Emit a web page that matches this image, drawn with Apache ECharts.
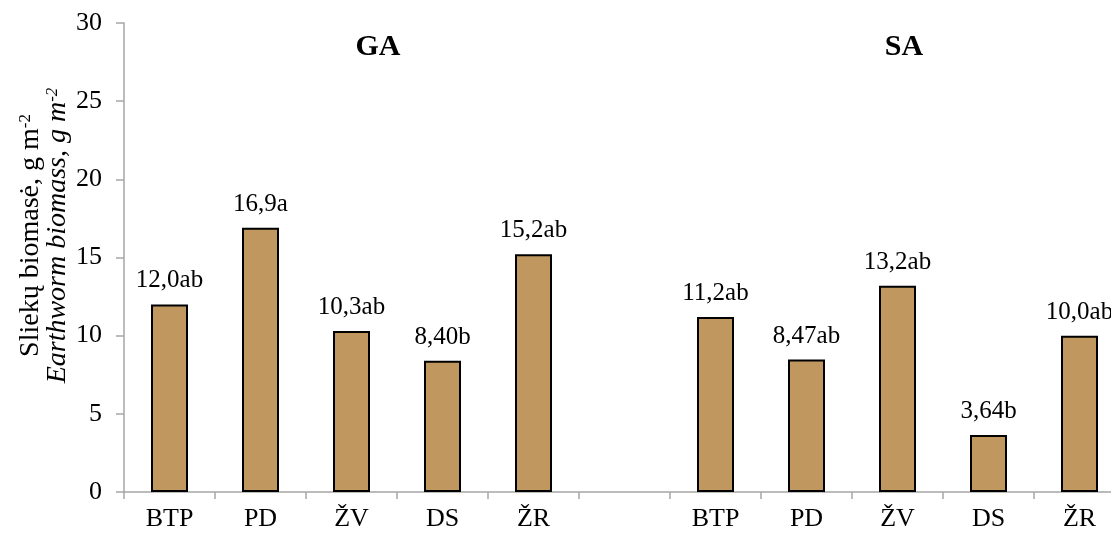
<!DOCTYPE html>
<html>
<head>
<meta charset="utf-8">
<title>Sliekų biomasė</title>
<script src="https://cdn.jsdelivr.net/npm/echarts@6/dist/echarts.min.js"></script>
<style>
  html, body { margin: 0; padding: 0; background: #ffffff; }
  #chart { width: 1111px; height: 536px; }
</style>
</head>
<body>
<div id="chart"></div>
<script>
// Treatments shown in each block
const treatments = ['BTP', 'PD', 'ŽV', 'DS', 'ŽR'];

// Earthworm biomass, g m-2
const gaValues = [12.0, 16.9, 10.3, 8.40, 15.2];
const saValues = [11.2, 8.47, 13.2, 3.64, 10.0];

// Significance letters
const gaLetters = ['ab', 'a', 'ab', 'b', 'ab'];
const saLetters = ['ab', 'ab', 'ab', 'b', 'ab'];

const groupTitles = ['GA', 'SA'];
const yTicks = [0, 5, 10, 15, 20, 25, 30];

const FONT = '"Liberation Serif", "Times New Roman", serif';

// One empty slot separates the two blocks on the category axis
const axisData = treatments.concat(['']).concat(treatments);
const values = gaValues.concat([null]).concat(saValues);
const letters = gaLetters.concat(['']).concat(saLetters);

const chart = echarts.init(document.getElementById('chart'), null, { renderer: 'canvas' });

const option = {
  animation: false,
  grid: { left: 124, right: -14, top: 23, bottom: 44, containLabel: false, outerBoundsMode: 'none' },
  xAxis: {
    type: 'category',
    data: axisData,
    boundaryGap: true,
    axisLine: { lineStyle: { color: '#a6a6a6', width: 1.5 } },
    axisTick: { show: true, length: 7, alignWithLabel: false, lineStyle: { color: '#a6a6a6', width: 1.5 } },
    axisLabel: { color: '#000', fontFamily: FONT, fontSize: 26, margin: 14, interval: 0 },
    splitLine: { show: false }
  },
  yAxis: {
    type: 'value',
    min: yTicks[0],
    max: yTicks[yTicks.length - 1],
    interval: 5,
    axisLine: { show: true, lineStyle: { color: '#a6a6a6', width: 1.5 } },
    axisTick: { show: true, length: 8, lineStyle: { color: '#a6a6a6', width: 1.5 } },
    axisLabel: { color: '#000', fontFamily: FONT, fontSize: 26, margin: 22 },
    splitLine: { show: false },
    name: '{n|Sliekų biomasė, g m}{s|-2}\n{i|Earthworm biomass, g m}{is|-2}',
    nameLocation: 'middle',
    nameRotate: 90,
    nameGap: 53,
    nameMoveOverlap: false,
    nameTextStyle: {
      color: '#000',
      fontFamily: FONT,
      fontSize: 28,
      lineHeight: 27,
      padding: [0, 0, 0, 44],
      rich: {
        n: { fontFamily: FONT, fontSize: 28, color: '#000', lineHeight: 27 },
        s: { fontFamily: FONT, fontSize: 17, color: '#000', verticalAlign: 'top', lineHeight: 27 },
        i: { fontFamily: FONT, fontSize: 28, fontStyle: 'italic', color: '#000', lineHeight: 27 },
        is: { fontFamily: FONT, fontSize: 17, fontStyle: 'italic', color: '#000', verticalAlign: 'top', lineHeight: 27 }
      }
    }
  },
  graphic: [
    { type: 'text', x: 378, y: 47, style: { text: groupTitles[0], font: 'bold 30px ' + FONT, fill: '#000', textAlign: 'center', textVerticalAlign: 'middle' } },
    { type: 'text', x: 904, y: 47, style: { text: groupTitles[1], font: 'bold 30px ' + FONT, fill: '#000', textAlign: 'center', textVerticalAlign: 'middle' } }
  ],
  series: [{
    type: 'bar',
    data: values,
    barWidth: 37,
    itemStyle: { color: '#BF975F', borderColor: '#000', borderWidth: 2 },
    label: {
      show: true,
      position: 'top',
      distance: 11,
      color: '#000',
      fontFamily: FONT,
      fontSize: 25,
      formatter: function (p) {
        if (p.value == null) return '';
        return Number(p.value).toPrecision(3).replace('.', ',') + letters[p.dataIndex];
      }
    }
  }]
};

chart.setOption(option);
</script>
</body>
</html>
